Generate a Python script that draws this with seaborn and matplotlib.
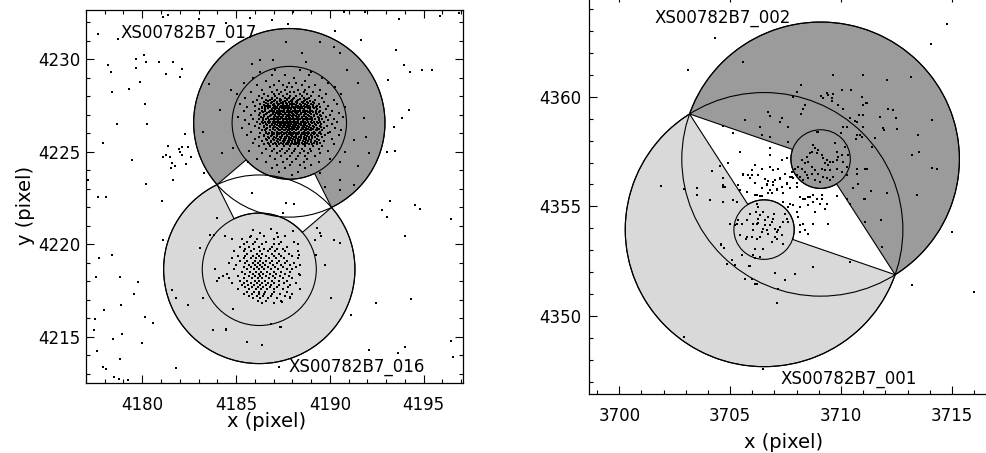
import numpy as np
import pandas as pd
import seaborn as sns
import matplotlib.pyplot as plt
from matplotlib.patches import Circle
from matplotlib.ticker import MultipleLocator

# ---------------------------------------------------------------- data
# source regions: (centre x, centre y, source radius); background radius per pair
src_017 = (4187.84, 4226.57, 3.05)
src_016 = (4186.24, 4218.65, 3.04)
bkg_radius_left = 5.10
src_002 = (3709.08, 4357.16, 1.34)
src_001 = (3706.53, 4353.94, 1.36)
bkg_radius_right = 6.26

names_left = ['XS00782B7_017', 'XS00782B7_016']
names_right = ['XS00782B7_002', 'XS00782B7_001']
label_pos_left = [(4178.82, 4231.15), (4187.79, 4213.09)]
label_pos_right = [(3701.61, 4363.41), (3707.25, 4346.88)]

xticks_left = [4180, 4185, 4190, 4195]
yticks_left = [4215, 4220, 4225, 4230]
xticks_right = [3700, 3705, 3710, 3715]
yticks_right = [4350, 4355, 4360]

# events, left field
left_field = [
    (4181.11, 4232.31), (4181.37, 4232.40), (4183.03, 4232.16), (4184.49, 4231.95), (4185.74, 4232.22),
    (4186.90, 4232.13), (4188.06, 4232.58), (4190.73, 4232.55), (4191.85, 4232.54), (4193.67, 4232.16),
    (4195.86, 4232.34), (4196.88, 4232.49), (4177.63, 4231.35), (4178.72, 4231.08), (4187.79, 4231.91),
    (4190.29, 4231.55), (4191.66, 4231.05), (4193.55, 4230.50), (4193.98, 4229.69), (4194.26, 4229.33),
    (4194.92, 4229.42), (4195.45, 4229.42), (4193.10, 4228.88), (4194.22, 4227.26), (4193.85, 4226.83),
    (4193.40, 4226.32), (4193.49, 4225.06), (4193.05, 4225.01), (4192.78, 4221.86), (4193.05, 4221.46),
    (4193.23, 4222.36), (4194.53, 4222.13), (4194.83, 4221.91), (4196.47, 4221.35), (4193.99, 4220.45),
    (4194.35, 4217.03), (4192.48, 4216.85), (4191.14, 4216.18), (4192.07, 4214.29), (4193.64, 4214.14),
    (4193.99, 4214.47), (4196.47, 4214.76), (4196.58, 4213.93), (4187.31, 4213.39),
    (4180.09, 4230.23), (4180.21, 4229.84), (4179.68, 4230.00), (4179.68, 4229.51), (4178.16, 4229.69),
    (4178.31, 4229.33), (4180.89, 4229.84), (4181.25, 4229.21), (4181.64, 4229.84), (4182.00, 4229.03),
    (4182.12, 4229.46), (4178.38, 4228.22), (4179.29, 4228.40), (4179.86, 4228.79), (4180.14, 4227.57),
    (4178.68, 4226.49), (4180.27, 4226.50), (4179.47, 4224.56), (4177.93, 4225.46),
    (4181.28, 4224.83), (4181.46, 4224.74), (4181.11, 4224.74), (4181.60, 4224.38), (4181.73, 4224.23),
    (4181.35, 4225.33), (4181.94, 4225.15), (4182.14, 4225.28), (4182.26, 4225.96), (4182.46, 4225.24),
    (4182.62, 4224.74), (4182.14, 4224.83), (4182.35, 4224.34), (4181.64, 4223.48), (4182.00, 4225.00),
    (4181.55, 4224.11),
    (4177.10, 4223.48), (4177.63, 4222.54), (4178.07, 4222.54), (4180.21, 4223.24), (4181.07, 4222.36),
    (4181.11, 4220.23), (4177.72, 4219.24), (4178.40, 4219.42), (4177.54, 4218.25), (4178.79, 4218.25),
    (4179.77, 4217.98), (4179.54, 4217.32), (4178.88, 4216.72), (4177.97, 4216.45), (4177.50, 4215.95),
    (4177.45, 4215.37), (4178.43, 4214.86), (4178.91, 4215.15), (4180.00, 4214.65), (4180.16, 4216.05),
    (4180.59, 4215.73), (4177.58, 4214.25), (4178.82, 4213.78), (4177.90, 4213.39), (4178.07, 4213.24),
    (4178.52, 4212.85), (4178.75, 4212.70), (4179.23, 4212.67), (4181.82, 4213.30), (4183.30, 4223.84),
    (4185.65, 4224.45), (4185.83, 4222.79), (4187.66, 4222.25), (4188.09, 4222.18), (4187.49, 4221.68),
]
left_bkg_017 = [
    (4183.57, 4228.65), (4184.71, 4228.35), (4184.17, 4227.27), (4183.24, 4226.05), (4184.24, 4224.93),
    (4184.85, 4225.20), (4185.83, 4229.74), (4186.27, 4229.96), (4187.66, 4230.94), (4186.99, 4229.96),
    (4188.52, 4230.36), (4188.74, 4229.87), (4189.45, 4230.95), (4190.20, 4230.68), (4190.55, 4230.32),
    (4191.50, 4228.70), (4190.91, 4229.42), (4191.80, 4226.81), (4191.27, 4225.64), (4191.94, 4225.82),
    (4192.07, 4224.92), (4191.50, 4224.23), (4190.55, 4223.48), (4190.55, 4222.94), (4191.30, 4223.21),
    (4189.75, 4223.12), (4189.48, 4223.84), (4185.03, 4228.14), (4190.55, 4224.44), (4190.82, 4224.99),
]
left_bkg_016 = [
    (4183.96, 4221.44), (4183.87, 4218.65), (4181.60, 4217.53), (4181.82, 4217.08), (4182.44, 4216.72),
    (4183.07, 4219.78), (4183.24, 4217.12), (4183.78, 4215.37), (4184.49, 4215.37), (4185.56, 4214.74),
    (4186.40, 4214.56), (4187.40, 4215.55), (4189.54, 4220.47), (4189.27, 4219.42), (4189.76, 4218.88),
    (4190.07, 4217.08), (4190.20, 4220.23), (4190.55, 4220.05), (4189.48, 4220.59),
    (4184.40, 4220.45), (4184.81, 4220.31), (4185.77, 4220.40), (4186.89, 4220.85), (4187.25, 4220.40),
    (4188.02, 4220.70), (4188.28, 4220.00), (4188.37, 4219.41), (4188.41, 4218.33), (4188.41, 4217.61),
    (4189.30, 4220.89), (4189.21, 4220.22), (4186.89, 4215.71), (4187.37, 4215.53), (4184.84, 4216.49),
    (4183.24, 4217.10), (4183.59, 4220.52), (4183.81, 4220.52), (4184.49, 4215.41), (4187.43, 4216.89),
    (4187.87, 4217.16),
]
# bright source XS00782B7_017, events read row by row (y, [x ...])
core_017 = [
    (4229.45, [4187.1, 4188.4]),
    (4229.30, [4186.3, 4189.0]),
    (4229.15, [4187.6, 4188.9, 4186.9]),
    (4229.00, [4185.9, 4188.1, 4189.6]),
    (4228.85, [4186.6, 4187.3, 4188.7]),
    (4228.72, [4187.8, 4188.2, 4189.9, 4185.4]),
    (4228.60, [4186.1, 4187.0, 4187.5, 4188.5, 4189.2]),
    (4228.48, [4186.8, 4187.7, 4188.0, 4188.9, 4190.3]),
    (4228.36, [4186.4, 4187.2, 4187.6, 4188.3, 4188.7, 4189.5]),
    (4228.25, [4185.8, 4186.9, 4187.4, 4187.9, 4188.1, 4188.6, 4189.1]),
    (4228.14, [4186.5, 4187.0, 4187.3, 4187.7, 4188.4, 4188.8, 4189.8, 4190.6]),
    (4228.03, [4186.2, 4186.7, 4187.1, 4187.5, 4187.9, 4188.2, 4188.5, 4189.0, 4189.4]),
    (4227.92, [4185.5, 4186.4, 4186.9, 4187.2, 4187.6, 4187.8, 4188.1, 4188.6, 4188.9, 4189.6]),
    (4227.81, [4186.1, 4186.6, 4186.8, 4187.1, 4187.4, 4187.7, 4188.0, 4188.3, 4188.7, 4189.2, 4190.2]),
    (4227.70, [4185.9, 4186.5, 4186.9, 4187.2, 4187.5, 4187.8, 4188.0, 4188.2, 4188.5, 4188.8, 4189.1, 4189.7]),
    (4227.60, [4185.2, 4186.3, 4186.7, 4187.0, 4187.3, 4187.5, 4187.7, 4187.9, 4188.1, 4188.4, 4188.7, 4189.0,
               4189.4, 4190.4]),
    (4227.50, [4186.0, 4186.6, 4186.8, 4187.1, 4187.4, 4187.6, 4187.8, 4188.0, 4188.3, 4188.6, 4188.9, 4189.3,
               4189.9]),
    (4227.40, [4185.6, 4186.4, 4186.7, 4187.0, 4187.2, 4187.45, 4187.65, 4187.85, 4188.05, 4188.25, 4188.5,
               4188.8, 4189.1, 4189.5, 4190.8]),
    (4227.30, [4186.2, 4186.55, 4186.9, 4187.1, 4187.3, 4187.55, 4187.75, 4187.95, 4188.15, 4188.4, 4188.65,
               4188.95, 4189.3, 4189.8]),
    (4227.20, [4185.4, 4186.0, 4186.4, 4186.8, 4187.05, 4187.25, 4187.45, 4187.7, 4187.9, 4188.1, 4188.3,
               4188.55, 4188.8, 4189.05, 4189.45, 4190.1]),
    (4227.10, [4186.3, 4186.65, 4186.95, 4187.15, 4187.35, 4187.6, 4187.8, 4188.0, 4188.2, 4188.45, 4188.7,
               4188.95, 4189.25, 4189.65, 4190.5]),
    (4227.00, [4185.8, 4186.2, 4186.5, 4186.85, 4187.1, 4187.3, 4187.5, 4187.7, 4187.9, 4188.1, 4188.35,
               4188.6, 4188.85, 4189.15, 4189.5, 4190.0]),
    (4226.90, [4185.1, 4186.35, 4186.7, 4187.0, 4187.2, 4187.4, 4187.65, 4187.85, 4188.05, 4188.25, 4188.5,
               4188.75, 4189.0, 4189.35, 4189.8, 4190.7]),
    (4226.80, [4185.9, 4186.25, 4186.6, 4186.9, 4187.15, 4187.35, 4187.55, 4187.75, 4187.95, 4188.15, 4188.4,
               4188.65, 4188.9, 4189.2, 4189.6, 4190.2]),
    (4226.70, [4185.5, 4186.45, 4186.75, 4187.05, 4187.25, 4187.5, 4187.7, 4187.9, 4188.1, 4188.3, 4188.55,
               4188.8, 4189.05, 4189.4, 4189.9]),
    (4226.60, [4186.1, 4186.4, 4186.7, 4186.95, 4187.2, 4187.4, 4187.6, 4187.8, 4188.0, 4188.2, 4188.45,
               4188.7, 4189.0, 4189.3, 4189.7, 4190.4]),
    (4226.50, [4185.7, 4186.3, 4186.6, 4186.9, 4187.1, 4187.35, 4187.55, 4187.75, 4187.95, 4188.15, 4188.35,
               4188.6, 4188.9, 4189.2, 4189.55, 4190.1]),
    (4226.40, [4186.0, 4186.5, 4186.8, 4187.05, 4187.3, 4187.5, 4187.7, 4187.9, 4188.1, 4188.3, 4188.55,
               4188.8, 4189.1, 4189.45, 4189.85]),
    (4226.30, [4185.3, 4186.2, 4186.65, 4186.95, 4187.2, 4187.45, 4187.65, 4187.85, 4188.05, 4188.25, 4188.5,
               4188.75, 4189.0, 4189.3, 4189.7, 4190.3]),
    (4226.20, [4186.4, 4186.8, 4187.1, 4187.35, 4187.6, 4187.8, 4188.0, 4188.2, 4188.45, 4188.7, 4188.95,
               4189.25, 4189.6, 4190.6]),
    (4226.10, [4185.8, 4186.6, 4186.9, 4187.2, 4187.45, 4187.7, 4187.9, 4188.1, 4188.35, 4188.6, 4188.85,
               4189.15, 4189.5, 4190.0]),
    (4226.00, [4186.3, 4186.75, 4187.05, 4187.3, 4187.55, 4187.8, 4188.0, 4188.25, 4188.5, 4188.75, 4189.05,
               4189.4, 4189.9]),
    (4225.90, [4185.6, 4186.5, 4186.9, 4187.2, 4187.45, 4187.7, 4187.95, 4188.2, 4188.45, 4188.7, 4189.0,
               4189.3, 4189.75, 4190.5]),
    (4225.80, [4186.2, 4186.7, 4187.0, 4187.35, 4187.6, 4187.85, 4188.1, 4188.35, 4188.6, 4188.9, 4189.2,
               4189.6]),
    (4225.70, [4186.0, 4186.6, 4186.95, 4187.25, 4187.55, 4187.8, 4188.05, 4188.3, 4188.6, 4188.9, 4189.3,
               4190.1]),
    (4225.60, [4186.4, 4186.85, 4187.2, 4187.5, 4187.75, 4188.0, 4188.3, 4188.55, 4188.85, 4189.2, 4189.7]),
    (4225.50, [4185.9, 4186.7, 4187.1, 4187.4, 4187.7, 4188.0, 4188.25, 4188.5, 4188.8, 4189.15, 4189.5]),
    (4225.40, [4186.5, 4186.95, 4187.3, 4187.65, 4187.95, 4188.2, 4188.55, 4188.9, 4189.3, 4190.2]),
    (4225.30, [4186.2, 4186.8, 4187.2, 4187.55, 4187.9, 4188.3, 4188.7, 4189.1, 4189.6]),
    (4225.18, [4186.6, 4187.0, 4187.45, 4187.8, 4188.15, 4188.5, 4188.95, 4189.4]),
    (4225.05, [4185.7, 4186.9, 4187.35, 4187.7, 4188.1, 4188.6, 4189.0, 4189.9]),
    (4224.92, [4186.4, 4187.2, 4187.6, 4188.0, 4188.4, 4188.85, 4189.5]),
    (4224.78, [4186.8, 4187.4, 4187.9, 4188.3, 4188.7, 4189.2]),
    (4224.62, [4186.1, 4187.1, 4187.7, 4188.2, 4188.8, 4190.0]),
    (4224.45, [4186.6, 4187.5, 4188.0, 4188.6, 4189.4]),
    (4224.28, [4187.2, 4187.9, 4188.4, 4189.0]),
    (4224.10, [4186.9, 4187.6, 4188.7]),
    (4223.92, [4187.3, 4188.3]),
    (4223.75, [4188.0]),
]
# the densest part of XS00782B7_017, rows between the ones above
core_017_dense = [
    (4227.86, [4186.93, 4187.32, 4187.71, 4188.04, 4188.42, 4188.77]),
    (4227.77, [4186.72, 4187.03, 4187.36, 4187.62, 4187.93, 4188.27, 4188.61, 4188.94]),
    (4227.64, [4186.58, 4186.86, 4187.16, 4187.42, 4187.66, 4187.98, 4188.26, 4188.57, 4188.86, 4189.18]),
    (4227.56, [4186.47, 4186.72, 4186.98, 4187.23, 4187.52, 4187.73, 4187.97, 4188.21, 4188.47, 4188.78,
               4189.12]),
    (4227.44, [4186.52, 4186.83, 4187.11, 4187.33, 4187.57, 4187.77, 4187.96, 4188.17, 4188.39, 4188.66,
               4188.97, 4189.28]),
    (4227.36, [4186.38, 4186.71, 4186.97, 4187.21, 4187.43, 4187.64, 4187.86, 4188.07, 4188.29, 4188.53,
               4188.82, 4189.16]),
    (4227.23, [4186.57, 4186.91, 4187.16, 4187.37, 4187.58, 4187.81, 4188.02, 4188.21, 4188.43, 4188.68,
               4188.93, 4189.27]),
    (4227.16, [4186.44, 4186.78, 4187.04, 4187.26, 4187.49, 4187.71, 4187.92, 4188.12, 4188.33, 4188.58,
               4188.84, 4189.12, 4189.43]),
    (4227.04, [4186.62, 4186.96, 4187.22, 4187.41, 4187.62, 4187.83, 4188.03, 4188.24, 4188.48, 4188.73,
               4189.01, 4189.32]),
    (4226.96, [4186.48, 4186.82, 4187.08, 4187.31, 4187.53, 4187.76, 4187.97, 4188.18, 4188.38, 4188.62,
               4188.88, 4189.18, 4189.52]),
    (4226.84, [4186.43, 4186.73, 4187.02, 4187.26, 4187.46, 4187.66, 4187.86, 4188.06, 4188.28, 4188.52,
               4188.77, 4189.06, 4189.41]),
    (4226.76, [4186.58, 4186.89, 4187.13, 4187.37, 4187.61, 4187.82, 4188.02, 4188.21, 4188.43, 4188.67,
               4188.93, 4189.23]),
    (4226.63, [4186.52, 4186.83, 4187.07, 4187.31, 4187.52, 4187.71, 4187.91, 4188.11, 4188.33, 4188.57,
               4188.84, 4189.14, 4189.48]),
    (4226.56, [4186.44, 4186.76, 4187.01, 4187.24, 4187.46, 4187.66, 4187.86, 4188.07, 4188.26, 4188.49,
               4188.74, 4189.04, 4189.37]),
    (4226.44, [4186.63, 4186.92, 4187.17, 4187.41, 4187.61, 4187.82, 4188.02, 4188.22, 4188.44, 4188.68,
               4188.96, 4189.27]),
    (4226.35, [4186.49, 4186.81, 4187.08, 4187.32, 4187.56, 4187.76, 4187.96, 4188.16, 4188.38, 4188.62,
               4188.88, 4189.17, 4189.52]),
    (4226.24, [4186.62, 4186.95, 4187.22, 4187.47, 4187.69, 4187.91, 4188.11, 4188.32, 4188.56, 4188.82,
               4189.11, 4189.43]),
    (4226.16, [4186.53, 4186.79, 4187.06, 4187.31, 4187.57, 4187.78, 4188.00, 4188.22, 4188.47, 4188.72,
               4189.00, 4189.32]),
    (4226.04, [4186.58, 4186.91, 4187.18, 4187.42, 4187.67, 4187.91, 4188.13, 4188.37, 4188.62, 4188.91,
               4189.22]),
    (4225.95, [4186.71, 4187.03, 4187.31, 4187.58, 4187.82, 4188.06, 4188.31, 4188.56, 4188.84, 4189.14,
               4189.51]),
    (4225.84, [4186.48, 4186.87, 4187.17, 4187.46, 4187.72, 4187.97, 4188.22, 4188.48, 4188.76, 4189.06,
               4189.38]),
    (4225.76, [4186.78, 4187.11, 4187.39, 4187.66, 4187.92, 4188.18, 4188.44, 4188.73, 4189.03]),
    (4225.64, [4186.63, 4187.02, 4187.33, 4187.62, 4187.88, 4188.14, 4188.42, 4188.71, 4189.02, 4189.42]),
    (4225.55, [4186.88, 4187.24, 4187.56, 4187.84, 4188.12, 4188.38, 4188.67, 4188.98, 4189.31]),
    (4225.45, [4186.77, 4187.13, 4187.48, 4187.79, 4188.08, 4188.37, 4188.69, 4189.04]),
]
# source XS00782B7_016, events row by row (y, [x ...])
core_016 = [
    (4220.75, [4185.9]),
    (4220.60, [4186.3, 4187.2]),
    (4220.45, [4185.8, 4186.5, 4187.6]),
    (4220.30, [4185.3, 4186.1, 4187.0]),
    (4220.15, [4185.6, 4186.0, 4186.6, 4187.4, 4188.1]),
    (4220.02, [4185.4, 4185.9, 4186.4, 4187.0, 4187.3]),
    (4219.88, [4185.2, 4185.7, 4186.2, 4186.9, 4187.7]),
    (4219.75, [4185.5, 4185.95, 4186.5, 4186.8, 4187.2, 4187.5]),
    (4219.62, [4184.9, 4185.4, 4185.8, 4186.3, 4186.7, 4187.1, 4187.6, 4188.3]),
    (4219.50, [4185.6, 4186.1, 4186.4, 4186.9, 4187.3, 4187.8]),
    (4219.38, [4185.1, 4185.5, 4185.9, 4186.2, 4186.6, 4187.0, 4187.4, 4188.0]),
    (4219.25, [4184.8, 4185.4, 4185.8, 4186.05, 4186.35, 4186.75, 4187.15, 4187.55, 4188.3]),
    (4219.12, [4185.2, 4185.6, 4186.0, 4186.3, 4186.6, 4186.9, 4187.3, 4187.7]),
    (4219.00, [4184.6, 4185.5, 4185.9, 4186.15, 4186.45, 4186.8, 4187.2, 4187.6, 4188.1]),
    (4218.88, [4185.0, 4185.7, 4186.0, 4186.3, 4186.55, 4186.95, 4187.4, 4187.9, 4188.4]),
    (4218.76, [4185.4, 4185.8, 4186.1, 4186.4, 4186.7, 4187.1, 4187.5, 4188.2]),
    (4218.64, [4184.9, 4185.6, 4185.95, 4186.25, 4186.5, 4186.85, 4187.25, 4187.7, 4188.0]),
    (4218.52, [4185.3, 4185.75, 4186.05, 4186.35, 4186.65, 4187.0, 4187.4, 4187.9]),
    (4218.40, [4184.5, 4185.5, 4185.9, 4186.2, 4186.45, 4186.8, 4187.15, 4187.6, 4188.35]),
    (4218.28, [4184.3, 4185.1, 4185.7, 4186.0, 4186.3, 4186.6, 4186.95, 4187.35, 4187.8]),
    (4218.16, [4184.1, 4184.6, 4185.4, 4185.85, 4186.15, 4186.4, 4186.75, 4187.1, 4187.5, 4188.0]),
    (4218.04, [4184.0, 4185.2, 4185.6, 4186.0, 4186.25, 4186.55, 4186.9, 4187.3, 4187.7]),
    (4217.92, [4184.8, 4185.45, 4185.8, 4186.1, 4186.4, 4186.7, 4187.05, 4187.55, 4188.2]),
    (4217.80, [4185.3, 4185.65, 4185.95, 4186.3, 4186.6, 4186.85, 4187.3, 4187.9]),
    (4217.68, [4185.5, 4185.85, 4186.15, 4186.45, 4186.8, 4187.2, 4187.75]),
    (4217.56, [4185.1, 4185.7, 4186.05, 4186.35, 4186.65, 4187.05, 4187.5, 4188.4]),
    (4217.44, [4185.6, 4185.95, 4186.25, 4186.55, 4187.0, 4187.7]),
    (4217.32, [4185.4, 4185.85, 4186.2, 4186.5, 4186.9, 4187.35, 4188.0]),
    (4217.20, [4185.7, 4186.1, 4186.45, 4186.85, 4187.6]),
    (4217.08, [4185.9, 4186.3, 4186.7, 4187.2, 4187.9]),
    (4216.95, [4186.15, 4186.6, 4187.4]),
    (4216.82, [4186.4, 4187.0]),
]

# events, right field
right_field = [
    (3714.77, 4363.35), (3704.33, 4362.71), (3714.06, 4362.44), (3705.56, 4361.60), (3703.11, 4361.22),
    (3701.88, 4355.92), (3714.99, 4353.81), (3713.19, 4351.43), (3716.02, 4351.07), (3702.92, 4349.04),
    (3706.50, 4347.55),
]
right_src_002 = [
    (3708.90, 4358.41), (3708.75, 4357.80), (3708.83, 4357.65), (3708.68, 4357.49), (3708.90, 4357.42),
    (3708.98, 4357.57), (3709.13, 4357.34), (3709.21, 4357.19), (3709.36, 4357.11), (3709.28, 4356.96),
    (3709.51, 4357.04), (3709.66, 4357.04), (3709.81, 4357.11), (3709.88, 4357.27), (3710.03, 4357.34),
    (3710.11, 4357.04), (3709.73, 4357.88), (3709.81, 4357.49), (3709.43, 4356.89), (3709.51, 4356.66),
    (3709.28, 4356.66), (3709.13, 4356.73), (3709.21, 4356.35), (3709.36, 4356.28), (3709.05, 4356.12),
    (3708.83, 4356.20), (3708.53, 4356.28), (3708.45, 4356.43), (3708.38, 4356.58), (3708.23, 4356.73),
    (3708.08, 4356.81), (3707.93, 4356.73), (3708.00, 4356.43), (3708.15, 4356.35), (3708.30, 4356.20),
    (3708.60, 4357.42), (3708.45, 4357.27), (3708.53, 4357.04), (3708.38, 4356.96), (3708.23, 4357.11),
    (3708.68, 4356.81), (3708.83, 4356.66), (3708.98, 4356.50), (3708.68, 4356.50), (3709.81, 4356.73),
    (3710.03, 4356.58), (3710.26, 4356.81), (3710.33, 4357.34), (3710.26, 4356.43), (3709.66, 4356.35),
    (3709.51, 4356.20),
]
right_src_001 = [
    (3706.19, 4355.13), (3706.27, 4354.98), (3706.16, 4354.75), (3706.34, 4354.60), (3706.19, 4354.21),
    (3706.04, 4354.18), (3706.27, 4354.25), (3706.04, 4353.91), (3705.97, 4353.61), (3706.19, 4353.53),
    (3706.42, 4353.83), (3706.49, 4353.99), (3706.57, 4354.14), (3706.64, 4353.91), (3706.72, 4353.76),
    (3706.79, 4354.14), (3706.87, 4354.29), (3706.94, 4354.44), (3707.02, 4353.99), (3707.10, 4353.83),
    (3707.17, 4353.91), (3707.25, 4354.06), (3707.02, 4353.61), (3706.87, 4353.38), (3707.10, 4353.53),
    (3707.32, 4353.68), (3707.40, 4354.29), (3707.47, 4354.67), (3707.55, 4354.44), (3707.62, 4354.29),
    (3707.40, 4353.30), (3706.98, 4354.64), (3706.72, 4354.52), (3706.57, 4354.37), (3706.49, 4354.75),
    (3706.34, 4353.61), (3706.12, 4353.07), (3706.49, 4353.07), (3705.74, 4353.61), (3705.44, 4353.68),
    (3705.29, 4354.21), (3705.37, 4354.37), (3705.22, 4354.14), (3704.99, 4354.21), (3705.52, 4354.21),
    (3705.74, 4354.37), (3705.89, 4354.67), (3706.34, 4352.69), (3706.04, 4352.77), (3705.52, 4352.77),
    (3706.12, 4352.62), (3705.71, 4353.53), (3706.27, 4354.44),
]
right_bkg_002 = [
    (3706.72, 4359.32), (3706.80, 4359.12), (3707.25, 4358.86), (3707.33, 4359.02), (3705.67, 4358.94),
    (3706.35, 4358.64), (3706.42, 4358.26), (3706.80, 4358.18), (3707.63, 4358.61), (3708.30, 4359.47),
    (3708.38, 4359.63), (3708.20, 4359.24), (3707.85, 4360.00), (3708.00, 4360.23), (3709.10, 4360.04),
    (3709.36, 4360.16), (3709.58, 4359.93), (3709.88, 4359.63), (3710.11, 4359.47), (3710.41, 4359.02),
    (3710.71, 4358.86), (3710.26, 4358.64), (3710.08, 4358.61), (3710.71, 4358.26), (3710.93, 4358.18),
    (3711.01, 4359.63), (3711.11, 4359.70), (3710.93, 4360.00), (3711.01, 4359.17), (3710.71, 4356.73),
    (3710.56, 4355.82), (3711.08, 4355.36), (3711.16, 4356.73), (3707.63, 4357.95), (3708.98, 4358.41),
    (3709.65, 4360.99), (3711.01, 4360.99), (3712.09, 4360.79), (3713.16, 4360.91), (3708.20, 4360.53),
    (3710.78, 4356.04), (3711.04, 4355.33), (3711.35, 4355.71), (3712.06, 4355.62), (3711.07, 4354.29),
    (3711.82, 4354.40), (3711.83, 4353.15), (3713.41, 4355.51), (3711.08, 4356.73), (3710.71, 4356.50),
    (3711.53, 4358.14), (3711.38, 4357.72), (3713.22, 4357.34), (3713.52, 4357.49), (3713.49, 4358.25),
    (3714.09, 4356.77), (3714.35, 4356.70), (3714.09, 4358.93), (3712.51, 4358.55), (3711.94, 4358.48),
    (3711.91, 4358.60), (3711.76, 4359.09), (3712.14, 4359.47), (3712.36, 4359.39), (3712.48, 4359.06),
    (3711.16, 4359.70), (3710.83, 4359.16), (3710.63, 4358.90), (3710.98, 4358.63), (3710.86, 4358.25),
    (3710.66, 4358.10), (3710.00, 4358.36), (3710.18, 4357.72), (3710.03, 4360.30), (3710.45, 4360.30),
    (3709.65, 4360.15), (3709.43, 4360.11), (3709.20, 4359.97), (3709.58, 4359.80),
]
right_gap = [
    (3705.45, 4357.49), (3705.14, 4358.33), (3704.69, 4358.67), (3704.92, 4356.96), (3704.17, 4356.63),
    (3704.69, 4356.28), (3706.80, 4357.65), (3706.80, 4357.34), (3707.33, 4357.11), (3707.55, 4357.19),
    (3707.17, 4356.73), (3706.95, 4356.66), (3706.80, 4356.78), (3706.42, 4356.69), (3706.12, 4356.89),
    (3705.97, 4356.66), (3705.60, 4356.50), (3705.82, 4356.43), (3706.27, 4356.43), (3706.57, 4356.23),
    (3706.72, 4356.17), (3707.02, 4356.20), (3707.25, 4356.28), (3707.48, 4356.50), (3707.70, 4356.35),
    (3707.78, 4356.58), (3707.85, 4356.28), (3707.55, 4356.05), (3707.33, 4355.90), (3706.95, 4355.97),
    (3706.65, 4355.97), (3706.42, 4355.82), (3706.12, 4356.05), (3705.90, 4356.28), (3705.45, 4355.74),
    (3705.75, 4355.67), (3706.20, 4355.52), (3706.42, 4355.47), (3706.87, 4355.59), (3707.10, 4355.74),
    (3707.40, 4355.59), (3707.70, 4355.82), (3708.00, 4355.90), (3708.15, 4355.44), (3708.38, 4355.36),
    (3708.60, 4355.44), (3708.90, 4355.36), (3709.13, 4355.52), (3709.36, 4355.13), (3709.81, 4355.47),
    (3710.26, 4355.36), (3710.41, 4355.13), (3708.53, 4355.06), (3708.15, 4354.98), (3707.70, 4355.13),
    (3705.14, 4355.29), (3704.69, 4355.90), (3704.09, 4355.29),
    (3707.40, 4355.20), (3707.62, 4354.98), (3707.85, 4355.05), (3708.00, 4354.75), (3708.07, 4354.52),
    (3708.15, 4354.14), (3708.30, 4354.21), (3708.37, 4353.91), (3708.15, 4353.83), (3708.52, 4353.76),
    (3708.75, 4354.21), (3708.83, 4354.75), (3708.75, 4355.20), (3709.05, 4355.13), (3709.28, 4354.90),
    (3709.43, 4354.21), (3708.30, 4355.36), (3708.52, 4355.43), (3709.13, 4355.36), (3708.75, 4355.51),
    (3706.12, 4355.51), (3706.34, 4355.46), (3706.72, 4355.62), (3705.74, 4355.66), (3705.29, 4355.20),
    (3704.69, 4355.20), (3704.76, 4355.89), (3705.37, 4355.97), (3705.59, 4356.42), (3705.97, 4356.42),
    (3706.64, 4356.04), (3706.94, 4356.12), (3707.25, 4356.27), (3707.55, 4356.04), (3707.77, 4356.35),
    (3708.00, 4356.07), (3706.79, 4355.74), (3707.10, 4355.81),
]
right_bkg_001 = [
    (3703.52, 4355.86), (3703.52, 4355.54), (3704.61, 4353.30), (3704.72, 4353.12), (3705.07, 4352.54),
    (3704.84, 4352.39), (3705.22, 4352.31), (3705.89, 4352.27), (3705.67, 4351.70), (3705.97, 4351.67),
    (3706.19, 4351.47), (3707.02, 4351.96), (3707.47, 4351.63), (3707.92, 4351.89), (3708.75, 4352.24),
    (3707.17, 4351.22), (3707.10, 4350.59), (3710.41, 4352.44), (3706.12, 4351.45), (3705.86, 4352.28),
    (3704.57, 4353.23), (3704.17, 4356.62), (3702.92, 4355.81), (3704.69, 4355.97), (3704.66, 4355.21),
    (3704.54, 4356.85), (3705.14, 4358.33), (3704.69, 4358.66),
]


def rows_to_pairs(rows):
    return [(x, y) for y, xs in rows for x in xs]


def events_frame(*groups):
    pts = [p for g in groups for p in g]
    return pd.DataFrame(pts, columns=['x', 'y'])


def draw_region(ax, src, other, r_out, color):
    # background annulus minus the sector facing the neighbouring source
    cx, cy, r_in = src
    d = np.hypot(other[0] - cx, other[1] - cy)
    phi = np.arctan2(other[1] - cy, other[0] - cx)
    alpha = np.arccos(d / (2 * r_out))
    t1, t2 = phi - alpha, phi + alpha
    t_out = np.linspace(t2, t1 + 2 * np.pi, 400)
    t_in = np.linspace(t1, t2, 150)
    xs = np.concatenate([cx + r_out * np.cos(t_out), cx + r_in * np.cos(t_in)])
    ys = np.concatenate([cy + r_out * np.sin(t_out), cy + r_in * np.sin(t_in)])
    ax.fill(xs, ys, facecolor=color, edgecolor='black', lw=0.8, zorder=1)
    ax.add_patch(Circle((cx, cy), r_out, fill=False, ec='black', lw=0.8, zorder=2))
    ax.add_patch(Circle((cx, cy), r_in, fill=False, ec='black', lw=0.8, zorder=2))


sns.set_style('ticks', {'xtick.direction': 'in', 'ytick.direction': 'in'})
plt.rcParams['font.family'] = ['DejaVu Sans']
plt.rcParams.update({
    'xtick.top': True, 'ytick.right': True,
    'xtick.major.size': 6, 'ytick.major.size': 6,
    'xtick.minor.size': 3, 'ytick.minor.size': 3,
    'xtick.major.width': 0.8, 'ytick.major.width': 0.8,
    'xtick.minor.width': 0.8, 'ytick.minor.width': 0.8,
    'axes.linewidth': 0.9, 'axes.edgecolor': 'black',
    'xtick.color': 'black', 'ytick.color': 'black',
    'text.color': 'black', 'axes.labelcolor': 'black',
})

fig = plt.figure(figsize=(9.87, 4.53), dpi=100)
ax1 = fig.add_axes([0.0871, 0.1545, 0.382, 0.8234])
ax2 = fig.add_axes([0.5971, 0.1302, 0.410, 0.883])

dark, light = '#9b9b9b', '#d9d9d9'

# left field
draw_region(ax1, src_017, src_016, bkg_radius_left, dark)
draw_region(ax1, src_016, src_017, bkg_radius_left, light)
ev_left = events_frame(left_field, left_bkg_017, left_bkg_016, rows_to_pairs(core_017),
                       rows_to_pairs(core_017_dense), rows_to_pairs(core_016))
sns.scatterplot(data=ev_left, x='x', y='y', ax=ax1, marker='s', s=3.6, color='black', linewidth=0, zorder=3)
for name, (tx, ty) in zip(names_left, label_pos_left):
    ax1.text(tx, ty, name, fontsize=12, ha='left', va='baseline', zorder=4)
ax1.set_xlim(4177.0, 4197.1)
ax1.set_ylim(4212.5, 4232.67)
ax1.set_xticks(xticks_left)
ax1.set_yticks(yticks_left)

# right field
draw_region(ax2, src_002, src_001, bkg_radius_right, dark)
draw_region(ax2, src_001, src_002, bkg_radius_right, light)
ev_right = events_frame(right_field, right_src_002, right_src_001, right_bkg_002, right_gap, right_bkg_001)
sns.scatterplot(data=ev_right, x='x', y='y', ax=ax2, marker='s', s=3.6, color='black', linewidth=0, zorder=3)
for name, (tx, ty) in zip(names_right, label_pos_right):
    ax2.text(tx, ty, name, fontsize=12, ha='left', va='baseline', zorder=4)
ax2.set_xlim(3698.65, 3716.9)
ax2.set_ylim(4346.43, 4364.7)
ax2.set_xticks(xticks_right)
ax2.set_yticks(yticks_right)

for ax in (ax1, ax2):
    ax.xaxis.set_minor_locator(MultipleLocator(1))
    ax.yaxis.set_minor_locator(MultipleLocator(1))
    ax.tick_params(which='both', labelsize=12)
    ax.tick_params(axis='x', which='both', pad=9)
    ax.set_xlabel('x (pixel)', fontsize=14)
    ax.set_ylabel('')

ax1.tick_params(axis='y', which='both', pad=4)
ax2.tick_params(axis='y', which='both', pad=6)
ax1.set_ylabel('y (pixel)', fontsize=14)
ax1.yaxis.set_label_coords(-0.135, 0.475)
ax1.xaxis.set_label_coords(0.479, -0.078)
ax2.xaxis.set_label_coords(0.481, -0.098)

plt.savefig('out.png', dpi=100)
